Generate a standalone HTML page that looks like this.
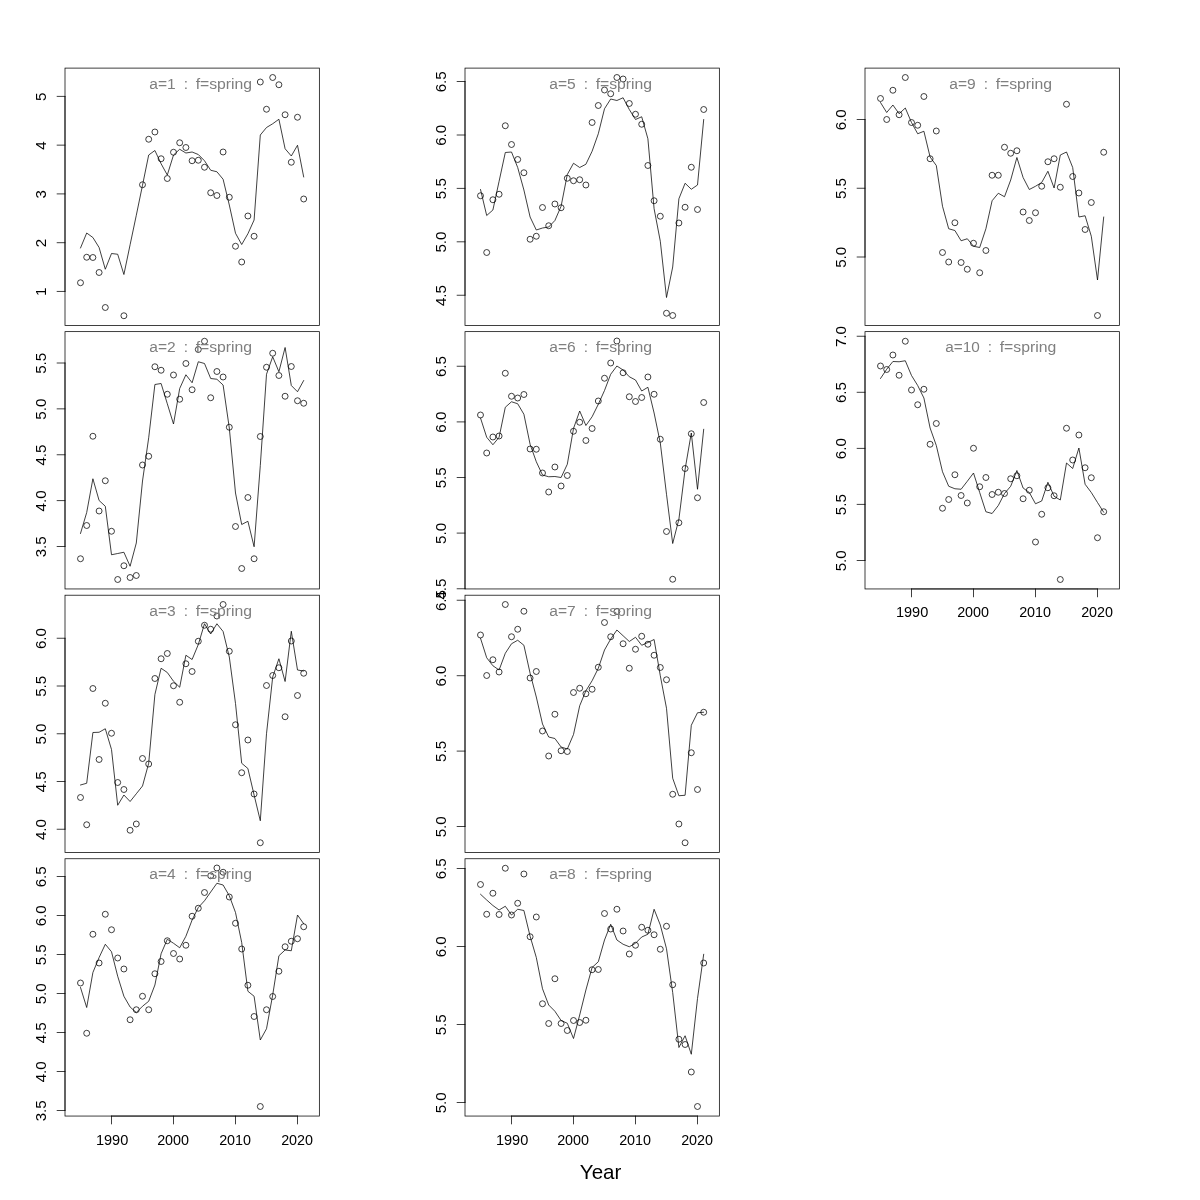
<!DOCTYPE html>
<html><head><meta charset="utf-8"><title>plot</title>
<style>
html,body{margin:0;padding:0;background:#fff;}
body{width:1200px;height:1200px;position:relative;overflow:hidden;font-family:"Liberation Sans",sans-serif;}
svg text{font-family:"Liberation Sans",sans-serif;}
.ln{fill:none;stroke:#000;stroke-width:0.75;stroke-linejoin:round;stroke-linecap:round}
.pt{fill:none;stroke:#000;stroke-width:0.75}
.bx{fill:none;stroke:#000;stroke-width:0.75}
.ax{fill:none;stroke:#000;stroke-width:0.75;stroke-linecap:round}
.tk{font-size:13.9px;fill:#000;text-anchor:middle;}
.tt{font-size:13.8px;fill:#7f7f7f;text-anchor:start;}
.yr{font-size:20.2px;fill:#000;text-anchor:middle;}
</style></head><body>
<svg width="1200" height="1200" viewBox="0 0 1200 1200" style="position:absolute;left:0;top:0;will-change:transform">
<rect width="1200" height="1200" fill="#fff"/>
<g><polyline class="ln" points="80.50,248.00 86.70,233.00 92.90,237.50 99.10,247.50 105.30,269.25 111.50,253.50 117.70,254.25 123.90,274.50 130.10,244.75 136.30,215.25 142.50,185.25 148.70,155.00 154.90,150.50 161.10,163.75 167.30,175.00 173.50,155.00 179.70,149.25 185.90,153.00 192.10,152.00 198.30,154.50 204.50,160.75 210.70,170.25 216.90,171.75 223.10,179.25 229.30,205.00 235.50,233.25 241.70,244.50 247.90,233.75 254.10,220.00 260.30,135.00 266.50,127.50 272.70,123.75 278.90,119.25 285.10,148.75 291.30,156.00 297.50,145.25 303.70,177.00"/><circle class="pt" cx="80.50" cy="282.75" r="2.97"/><circle class="pt" cx="86.70" cy="257.25" r="2.97"/><circle class="pt" cx="92.90" cy="257.50" r="2.97"/><circle class="pt" cx="99.10" cy="272.50" r="2.97"/><circle class="pt" cx="105.30" cy="307.50" r="2.97"/><circle class="pt" cx="123.90" cy="315.75" r="2.97"/><circle class="pt" cx="142.50" cy="184.75" r="2.97"/><circle class="pt" cx="148.70" cy="139.25" r="2.97"/><circle class="pt" cx="154.90" cy="132.00" r="2.97"/><circle class="pt" cx="161.10" cy="158.75" r="2.97"/><circle class="pt" cx="167.30" cy="178.50" r="2.97"/><circle class="pt" cx="173.50" cy="152.25" r="2.97"/><circle class="pt" cx="179.70" cy="142.75" r="2.97"/><circle class="pt" cx="185.90" cy="147.50" r="2.97"/><circle class="pt" cx="192.10" cy="160.75" r="2.97"/><circle class="pt" cx="198.30" cy="160.25" r="2.97"/><circle class="pt" cx="204.50" cy="167.25" r="2.97"/><circle class="pt" cx="210.70" cy="192.75" r="2.97"/><circle class="pt" cx="216.90" cy="195.50" r="2.97"/><circle class="pt" cx="223.10" cy="152.00" r="2.97"/><circle class="pt" cx="229.30" cy="197.25" r="2.97"/><circle class="pt" cx="235.50" cy="246.25" r="2.97"/><circle class="pt" cx="241.70" cy="262.00" r="2.97"/><circle class="pt" cx="247.90" cy="216.00" r="2.97"/><circle class="pt" cx="254.10" cy="236.25" r="2.97"/><circle class="pt" cx="260.30" cy="82.00" r="2.97"/><circle class="pt" cx="266.50" cy="109.25" r="2.97"/><circle class="pt" cx="272.70" cy="77.50" r="2.97"/><circle class="pt" cx="278.90" cy="84.75" r="2.97"/><circle class="pt" cx="285.10" cy="114.75" r="2.97"/><circle class="pt" cx="291.30" cy="162.25" r="2.97"/><circle class="pt" cx="297.50" cy="117.25" r="2.97"/><circle class="pt" cx="303.70" cy="199.00" r="2.97"/><rect class="bx" x="65.00" y="68.10" width="254.35" height="257.30"/><path class="ax" d="M65.00 96.40V291.45M65.00 96.40H57.10M65.00 145.15H57.10M65.00 193.90H57.10M65.00 242.70H57.10M65.00 291.45H57.10"/><text class="tk" transform="translate(46.10 96.70) rotate(-90)" textLength="8.4" lengthAdjust="spacingAndGlyphs">5</text><text class="tk" transform="translate(46.10 145.45) rotate(-90)" textLength="8.4" lengthAdjust="spacingAndGlyphs">4</text><text class="tk" transform="translate(46.10 194.20) rotate(-90)" textLength="8.4" lengthAdjust="spacingAndGlyphs">3</text><text class="tk" transform="translate(46.10 243.00) rotate(-90)" textLength="8.4" lengthAdjust="spacingAndGlyphs">2</text><text class="tk" transform="translate(46.10 291.75) rotate(-90)" textLength="8.4" lengthAdjust="spacingAndGlyphs">1</text><text class="tt" x="149.32" y="88.80" textLength="26.44" lengthAdjust="spacingAndGlyphs">a=1</text><text class="tt" x="183.82" y="88.80" textLength="4.27" lengthAdjust="spacingAndGlyphs">:</text><text class="tt" x="195.65" y="88.80" textLength="56.5" lengthAdjust="spacingAndGlyphs">f=spring</text></g>
<g><polyline class="ln" points="80.50,533.50 86.70,512.50 92.90,478.75 99.10,500.50 105.30,506.25 111.50,554.75 117.70,553.50 123.90,552.25 130.10,566.25 136.30,543.00 142.50,481.00 148.70,437.75 154.90,384.50 161.10,383.50 167.30,403.75 173.50,424.00 179.70,388.50 185.90,374.75 192.10,382.75 198.30,361.75 204.50,363.50 210.70,378.50 216.90,379.25 223.10,385.00 229.30,428.00 235.50,493.00 241.70,524.50 247.90,521.25 254.10,546.75 260.30,465.50 266.50,374.25 272.70,356.75 278.90,371.75 285.10,347.50 291.30,385.50 297.50,391.75 303.70,380.50"/><circle class="pt" cx="80.50" cy="558.75" r="2.97"/><circle class="pt" cx="86.70" cy="525.50" r="2.97"/><circle class="pt" cx="92.90" cy="436.25" r="2.97"/><circle class="pt" cx="99.10" cy="511.00" r="2.97"/><circle class="pt" cx="105.30" cy="480.75" r="2.97"/><circle class="pt" cx="111.50" cy="531.25" r="2.97"/><circle class="pt" cx="117.70" cy="579.50" r="2.97"/><circle class="pt" cx="123.90" cy="565.75" r="2.97"/><circle class="pt" cx="130.10" cy="577.50" r="2.97"/><circle class="pt" cx="136.30" cy="575.50" r="2.97"/><circle class="pt" cx="142.50" cy="465.00" r="2.97"/><circle class="pt" cx="148.70" cy="456.25" r="2.97"/><circle class="pt" cx="154.90" cy="366.75" r="2.97"/><circle class="pt" cx="161.10" cy="370.25" r="2.97"/><circle class="pt" cx="167.30" cy="394.25" r="2.97"/><circle class="pt" cx="173.50" cy="375.00" r="2.97"/><circle class="pt" cx="179.70" cy="399.25" r="2.97"/><circle class="pt" cx="185.90" cy="363.50" r="2.97"/><circle class="pt" cx="192.10" cy="389.75" r="2.97"/><circle class="pt" cx="198.30" cy="349.50" r="2.97"/><circle class="pt" cx="204.50" cy="341.25" r="2.97"/><circle class="pt" cx="210.70" cy="397.75" r="2.97"/><circle class="pt" cx="216.90" cy="371.50" r="2.97"/><circle class="pt" cx="223.10" cy="377.00" r="2.97"/><circle class="pt" cx="229.30" cy="427.25" r="2.97"/><circle class="pt" cx="235.50" cy="526.50" r="2.97"/><circle class="pt" cx="241.70" cy="568.50" r="2.97"/><circle class="pt" cx="247.90" cy="497.50" r="2.97"/><circle class="pt" cx="254.10" cy="558.75" r="2.97"/><circle class="pt" cx="260.30" cy="436.50" r="2.97"/><circle class="pt" cx="266.50" cy="367.25" r="2.97"/><circle class="pt" cx="272.70" cy="353.25" r="2.97"/><circle class="pt" cx="278.90" cy="375.50" r="2.97"/><circle class="pt" cx="285.10" cy="396.25" r="2.97"/><circle class="pt" cx="291.30" cy="366.50" r="2.97"/><circle class="pt" cx="297.50" cy="400.75" r="2.97"/><circle class="pt" cx="303.70" cy="403.25" r="2.97"/><rect class="bx" x="65.00" y="331.65" width="254.35" height="257.30"/><path class="ax" d="M65.00 363.00V546.50M65.00 363.00H57.10M65.00 408.85H57.10M65.00 454.75H57.10M65.00 500.60H57.10M65.00 546.50H57.10"/><text class="tk" transform="translate(46.10 363.30) rotate(-90)" textLength="21.0" lengthAdjust="spacingAndGlyphs">5.5</text><text class="tk" transform="translate(46.10 409.15) rotate(-90)" textLength="21.0" lengthAdjust="spacingAndGlyphs">5.0</text><text class="tk" transform="translate(46.10 455.05) rotate(-90)" textLength="21.0" lengthAdjust="spacingAndGlyphs">4.5</text><text class="tk" transform="translate(46.10 500.90) rotate(-90)" textLength="21.0" lengthAdjust="spacingAndGlyphs">4.0</text><text class="tk" transform="translate(46.10 546.80) rotate(-90)" textLength="21.0" lengthAdjust="spacingAndGlyphs">3.5</text><text class="tt" x="149.32" y="352.35" textLength="26.44" lengthAdjust="spacingAndGlyphs">a=2</text><text class="tt" x="183.82" y="352.35" textLength="4.27" lengthAdjust="spacingAndGlyphs">:</text><text class="tt" x="195.65" y="352.35" textLength="56.5" lengthAdjust="spacingAndGlyphs">f=spring</text></g>
<g><polyline class="ln" points="80.50,785.00 86.70,783.25 92.90,732.50 99.10,732.25 105.30,728.75 111.50,749.50 117.70,805.25 123.90,795.00 130.10,801.50 136.30,793.75 142.50,786.00 148.70,763.25 154.90,694.50 161.10,668.25 167.30,672.50 173.50,681.25 179.70,687.25 185.90,655.25 192.10,659.50 198.30,644.50 204.50,623.75 210.70,634.00 216.90,623.75 223.10,631.50 229.30,657.00 235.50,703.50 241.70,763.25 247.90,768.50 254.10,795.00 260.30,820.75 266.50,733.75 272.70,677.00 278.90,658.75 285.10,681.50 291.30,631.25 297.50,670.00 303.70,671.00"/><circle class="pt" cx="80.50" cy="797.50" r="2.97"/><circle class="pt" cx="86.70" cy="824.75" r="2.97"/><circle class="pt" cx="92.90" cy="688.50" r="2.97"/><circle class="pt" cx="99.10" cy="759.50" r="2.97"/><circle class="pt" cx="105.30" cy="703.25" r="2.97"/><circle class="pt" cx="111.50" cy="733.25" r="2.97"/><circle class="pt" cx="117.70" cy="782.50" r="2.97"/><circle class="pt" cx="123.90" cy="789.50" r="2.97"/><circle class="pt" cx="130.10" cy="830.25" r="2.97"/><circle class="pt" cx="136.30" cy="824.00" r="2.97"/><circle class="pt" cx="142.50" cy="758.50" r="2.97"/><circle class="pt" cx="148.70" cy="764.00" r="2.97"/><circle class="pt" cx="154.90" cy="678.50" r="2.97"/><circle class="pt" cx="161.10" cy="658.75" r="2.97"/><circle class="pt" cx="167.30" cy="653.50" r="2.97"/><circle class="pt" cx="173.50" cy="685.75" r="2.97"/><circle class="pt" cx="179.70" cy="702.25" r="2.97"/><circle class="pt" cx="185.90" cy="663.75" r="2.97"/><circle class="pt" cx="192.10" cy="671.50" r="2.97"/><circle class="pt" cx="198.30" cy="641.25" r="2.97"/><circle class="pt" cx="204.50" cy="625.25" r="2.97"/><circle class="pt" cx="210.70" cy="629.25" r="2.97"/><circle class="pt" cx="216.90" cy="616.00" r="2.97"/><circle class="pt" cx="223.10" cy="604.50" r="2.97"/><circle class="pt" cx="229.30" cy="651.25" r="2.97"/><circle class="pt" cx="235.50" cy="724.75" r="2.97"/><circle class="pt" cx="241.70" cy="772.75" r="2.97"/><circle class="pt" cx="247.90" cy="740.00" r="2.97"/><circle class="pt" cx="254.10" cy="794.00" r="2.97"/><circle class="pt" cx="260.30" cy="842.75" r="2.97"/><circle class="pt" cx="266.50" cy="685.50" r="2.97"/><circle class="pt" cx="272.70" cy="675.50" r="2.97"/><circle class="pt" cx="278.90" cy="667.75" r="2.97"/><circle class="pt" cx="285.10" cy="716.75" r="2.97"/><circle class="pt" cx="291.30" cy="641.00" r="2.97"/><circle class="pt" cx="297.50" cy="695.50" r="2.97"/><circle class="pt" cx="303.70" cy="673.25" r="2.97"/><rect class="bx" x="65.00" y="595.20" width="254.35" height="257.30"/><path class="ax" d="M65.00 638.25V829.25M65.00 638.25H57.10M65.00 686.00H57.10M65.00 733.75H57.10M65.00 781.50H57.10M65.00 829.25H57.10"/><text class="tk" transform="translate(46.10 638.55) rotate(-90)" textLength="21.0" lengthAdjust="spacingAndGlyphs">6.0</text><text class="tk" transform="translate(46.10 686.30) rotate(-90)" textLength="21.0" lengthAdjust="spacingAndGlyphs">5.5</text><text class="tk" transform="translate(46.10 734.05) rotate(-90)" textLength="21.0" lengthAdjust="spacingAndGlyphs">5.0</text><text class="tk" transform="translate(46.10 781.80) rotate(-90)" textLength="21.0" lengthAdjust="spacingAndGlyphs">4.5</text><text class="tk" transform="translate(46.10 829.55) rotate(-90)" textLength="21.0" lengthAdjust="spacingAndGlyphs">4.0</text><text class="tt" x="149.32" y="615.90" textLength="26.44" lengthAdjust="spacingAndGlyphs">a=3</text><text class="tt" x="183.82" y="615.90" textLength="4.27" lengthAdjust="spacingAndGlyphs">:</text><text class="tt" x="195.65" y="615.90" textLength="56.5" lengthAdjust="spacingAndGlyphs">f=spring</text></g>
<g><polyline class="ln" points="80.50,987.50 86.70,1007.50 92.90,972.50 99.10,957.50 105.30,944.25 111.50,951.75 117.70,976.25 123.90,996.25 130.10,1007.00 136.30,1012.50 142.50,1006.25 148.70,1001.25 154.90,985.00 161.10,953.75 167.30,939.25 173.50,943.25 179.70,947.75 185.90,936.25 192.10,920.00 198.30,907.50 204.50,900.75 210.70,892.00 216.90,883.25 223.10,885.00 229.30,895.75 235.50,912.50 241.70,942.50 247.90,991.25 254.10,996.25 260.30,1040.00 266.50,1028.75 272.70,995.00 278.90,955.75 285.10,950.00 291.30,950.75 297.50,915.00 303.70,923.75"/><circle class="pt" cx="80.50" cy="983.00" r="2.97"/><circle class="pt" cx="86.70" cy="1033.25" r="2.97"/><circle class="pt" cx="92.90" cy="934.25" r="2.97"/><circle class="pt" cx="99.10" cy="963.00" r="2.97"/><circle class="pt" cx="105.30" cy="914.25" r="2.97"/><circle class="pt" cx="111.50" cy="929.75" r="2.97"/><circle class="pt" cx="117.70" cy="958.00" r="2.97"/><circle class="pt" cx="123.90" cy="969.00" r="2.97"/><circle class="pt" cx="130.10" cy="1019.75" r="2.97"/><circle class="pt" cx="136.30" cy="1009.75" r="2.97"/><circle class="pt" cx="142.50" cy="996.25" r="2.97"/><circle class="pt" cx="148.70" cy="1009.75" r="2.97"/><circle class="pt" cx="154.90" cy="973.75" r="2.97"/><circle class="pt" cx="161.10" cy="961.50" r="2.97"/><circle class="pt" cx="167.30" cy="940.75" r="2.97"/><circle class="pt" cx="173.50" cy="953.50" r="2.97"/><circle class="pt" cx="179.70" cy="959.00" r="2.97"/><circle class="pt" cx="185.90" cy="945.25" r="2.97"/><circle class="pt" cx="192.10" cy="916.25" r="2.97"/><circle class="pt" cx="198.30" cy="908.25" r="2.97"/><circle class="pt" cx="204.50" cy="892.50" r="2.97"/><circle class="pt" cx="210.70" cy="875.75" r="2.97"/><circle class="pt" cx="216.90" cy="868.00" r="2.97"/><circle class="pt" cx="223.10" cy="872.25" r="2.97"/><circle class="pt" cx="229.30" cy="897.00" r="2.97"/><circle class="pt" cx="235.50" cy="923.25" r="2.97"/><circle class="pt" cx="241.70" cy="949.00" r="2.97"/><circle class="pt" cx="247.90" cy="985.25" r="2.97"/><circle class="pt" cx="254.10" cy="1016.50" r="2.97"/><circle class="pt" cx="260.30" cy="1106.50" r="2.97"/><circle class="pt" cx="266.50" cy="1009.75" r="2.97"/><circle class="pt" cx="272.70" cy="996.50" r="2.97"/><circle class="pt" cx="278.90" cy="971.25" r="2.97"/><circle class="pt" cx="285.10" cy="946.75" r="2.97"/><circle class="pt" cx="291.30" cy="941.25" r="2.97"/><circle class="pt" cx="297.50" cy="938.75" r="2.97"/><circle class="pt" cx="303.70" cy="926.75" r="2.97"/><rect class="bx" x="65.00" y="858.75" width="254.35" height="257.30"/><path class="ax" d="M65.00 876.50V1110.50M65.00 876.50H57.10M65.00 915.50H57.10M65.00 954.50H57.10M65.00 993.50H57.10M65.00 1032.50H57.10M65.00 1071.50H57.10M65.00 1110.50H57.10M111.50 1116.05H297.50M111.50 1116.05V1123.95M173.50 1116.05V1123.95M235.50 1116.05V1123.95M297.50 1116.05V1123.95"/><text class="tk" transform="translate(46.10 876.80) rotate(-90)" textLength="21.0" lengthAdjust="spacingAndGlyphs">6.5</text><text class="tk" transform="translate(46.10 915.80) rotate(-90)" textLength="21.0" lengthAdjust="spacingAndGlyphs">6.0</text><text class="tk" transform="translate(46.10 954.80) rotate(-90)" textLength="21.0" lengthAdjust="spacingAndGlyphs">5.5</text><text class="tk" transform="translate(46.10 993.80) rotate(-90)" textLength="21.0" lengthAdjust="spacingAndGlyphs">5.0</text><text class="tk" transform="translate(46.10 1032.80) rotate(-90)" textLength="21.0" lengthAdjust="spacingAndGlyphs">4.5</text><text class="tk" transform="translate(46.10 1071.80) rotate(-90)" textLength="21.0" lengthAdjust="spacingAndGlyphs">4.0</text><text class="tk" transform="translate(46.10 1110.80) rotate(-90)" textLength="21.0" lengthAdjust="spacingAndGlyphs">3.5</text><text class="tk" x="112.10" y="1144.55" textLength="32.4" lengthAdjust="spacingAndGlyphs">1990</text><text class="tk" x="173.10" y="1144.55" textLength="31.9" lengthAdjust="spacingAndGlyphs">2000</text><text class="tk" x="235.10" y="1144.55" textLength="31.9" lengthAdjust="spacingAndGlyphs">2010</text><text class="tk" x="297.10" y="1144.55" textLength="31.9" lengthAdjust="spacingAndGlyphs">2020</text><text class="tt" x="149.32" y="879.45" textLength="26.44" lengthAdjust="spacingAndGlyphs">a=4</text><text class="tt" x="183.82" y="879.45" textLength="4.27" lengthAdjust="spacingAndGlyphs">:</text><text class="tt" x="195.65" y="879.45" textLength="56.5" lengthAdjust="spacingAndGlyphs">f=spring</text></g>
<g><polyline class="ln" points="480.50,189.50 486.70,215.50 492.90,210.00 499.10,181.25 505.30,152.50 511.50,152.00 517.70,167.50 523.90,190.00 530.10,217.00 536.30,230.00 542.50,228.00 548.70,227.00 554.90,220.50 561.10,206.25 567.30,174.50 573.50,163.25 579.70,167.50 585.90,164.25 592.10,151.25 598.30,133.75 604.50,108.75 610.70,99.00 616.90,100.50 623.10,97.75 629.30,109.50 635.50,119.50 641.70,116.75 647.90,138.75 654.10,208.75 660.30,241.25 666.50,297.50 672.70,267.00 678.90,198.75 685.10,183.25 691.30,189.25 697.50,185.00 703.70,119.50"/><circle class="pt" cx="480.50" cy="195.75" r="2.97"/><circle class="pt" cx="486.70" cy="252.50" r="2.97"/><circle class="pt" cx="492.90" cy="199.75" r="2.97"/><circle class="pt" cx="499.10" cy="194.25" r="2.97"/><circle class="pt" cx="505.30" cy="125.75" r="2.97"/><circle class="pt" cx="511.50" cy="144.50" r="2.97"/><circle class="pt" cx="517.70" cy="159.50" r="2.97"/><circle class="pt" cx="523.90" cy="172.75" r="2.97"/><circle class="pt" cx="530.10" cy="239.25" r="2.97"/><circle class="pt" cx="536.30" cy="236.25" r="2.97"/><circle class="pt" cx="542.50" cy="207.50" r="2.97"/><circle class="pt" cx="548.70" cy="225.75" r="2.97"/><circle class="pt" cx="554.90" cy="204.00" r="2.97"/><circle class="pt" cx="561.10" cy="207.75" r="2.97"/><circle class="pt" cx="567.30" cy="178.25" r="2.97"/><circle class="pt" cx="573.50" cy="180.75" r="2.97"/><circle class="pt" cx="579.70" cy="179.75" r="2.97"/><circle class="pt" cx="585.90" cy="185.00" r="2.97"/><circle class="pt" cx="592.10" cy="122.50" r="2.97"/><circle class="pt" cx="598.30" cy="105.50" r="2.97"/><circle class="pt" cx="604.50" cy="90.00" r="2.97"/><circle class="pt" cx="610.70" cy="93.75" r="2.97"/><circle class="pt" cx="616.90" cy="77.50" r="2.97"/><circle class="pt" cx="623.10" cy="79.00" r="2.97"/><circle class="pt" cx="629.30" cy="103.50" r="2.97"/><circle class="pt" cx="635.50" cy="114.25" r="2.97"/><circle class="pt" cx="641.70" cy="124.25" r="2.97"/><circle class="pt" cx="647.90" cy="165.50" r="2.97"/><circle class="pt" cx="654.10" cy="200.75" r="2.97"/><circle class="pt" cx="660.30" cy="216.25" r="2.97"/><circle class="pt" cx="666.50" cy="313.25" r="2.97"/><circle class="pt" cx="672.70" cy="315.50" r="2.97"/><circle class="pt" cx="678.90" cy="223.00" r="2.97"/><circle class="pt" cx="685.10" cy="207.25" r="2.97"/><circle class="pt" cx="691.30" cy="167.25" r="2.97"/><circle class="pt" cx="697.50" cy="209.50" r="2.97"/><circle class="pt" cx="703.70" cy="109.50" r="2.97"/><rect class="bx" x="465.00" y="68.10" width="254.35" height="257.30"/><path class="ax" d="M465.00 81.50V295.25M465.00 81.50H457.10M465.00 135.00H457.10M465.00 188.40H457.10M465.00 241.80H457.10M465.00 295.25H457.10"/><text class="tk" transform="translate(446.10 81.80) rotate(-90)" textLength="21.0" lengthAdjust="spacingAndGlyphs">6.5</text><text class="tk" transform="translate(446.10 135.30) rotate(-90)" textLength="21.0" lengthAdjust="spacingAndGlyphs">6.0</text><text class="tk" transform="translate(446.10 188.70) rotate(-90)" textLength="21.0" lengthAdjust="spacingAndGlyphs">5.5</text><text class="tk" transform="translate(446.10 242.10) rotate(-90)" textLength="21.0" lengthAdjust="spacingAndGlyphs">5.0</text><text class="tk" transform="translate(446.10 295.55) rotate(-90)" textLength="21.0" lengthAdjust="spacingAndGlyphs">4.5</text><text class="tt" x="549.32" y="88.80" textLength="26.44" lengthAdjust="spacingAndGlyphs">a=5</text><text class="tt" x="583.82" y="88.80" textLength="4.27" lengthAdjust="spacingAndGlyphs">:</text><text class="tt" x="595.65" y="88.80" textLength="56.5" lengthAdjust="spacingAndGlyphs">f=spring</text></g>
<g><polyline class="ln" points="480.50,418.00 486.70,437.25 492.90,444.75 499.10,437.25 505.30,407.25 511.50,401.75 517.70,403.75 523.90,414.25 530.10,444.25 536.30,461.75 542.50,475.00 548.70,476.75 554.90,476.50 561.10,477.50 567.30,464.25 573.50,428.50 579.70,411.00 585.90,425.50 592.10,416.75 598.30,404.25 604.50,390.50 610.70,374.25 616.90,366.00 623.10,370.00 629.30,376.75 635.50,380.00 641.70,391.00 647.90,387.25 654.10,413.00 660.30,443.00 666.50,494.25 672.70,543.50 678.90,519.25 685.10,469.25 691.30,433.00 697.50,489.25 703.70,429.25"/><circle class="pt" cx="480.50" cy="415.00" r="2.97"/><circle class="pt" cx="486.70" cy="453.00" r="2.97"/><circle class="pt" cx="492.90" cy="437.00" r="2.97"/><circle class="pt" cx="499.10" cy="436.00" r="2.97"/><circle class="pt" cx="505.30" cy="373.25" r="2.97"/><circle class="pt" cx="511.50" cy="396.25" r="2.97"/><circle class="pt" cx="517.70" cy="398.00" r="2.97"/><circle class="pt" cx="523.90" cy="394.50" r="2.97"/><circle class="pt" cx="530.10" cy="449.00" r="2.97"/><circle class="pt" cx="536.30" cy="449.25" r="2.97"/><circle class="pt" cx="542.50" cy="473.00" r="2.97"/><circle class="pt" cx="548.70" cy="492.00" r="2.97"/><circle class="pt" cx="554.90" cy="467.00" r="2.97"/><circle class="pt" cx="561.10" cy="486.00" r="2.97"/><circle class="pt" cx="567.30" cy="475.50" r="2.97"/><circle class="pt" cx="573.50" cy="431.25" r="2.97"/><circle class="pt" cx="579.70" cy="422.25" r="2.97"/><circle class="pt" cx="585.90" cy="440.50" r="2.97"/><circle class="pt" cx="592.10" cy="428.50" r="2.97"/><circle class="pt" cx="598.30" cy="401.00" r="2.97"/><circle class="pt" cx="604.50" cy="378.25" r="2.97"/><circle class="pt" cx="610.70" cy="363.00" r="2.97"/><circle class="pt" cx="616.90" cy="341.00" r="2.97"/><circle class="pt" cx="623.10" cy="372.75" r="2.97"/><circle class="pt" cx="629.30" cy="396.75" r="2.97"/><circle class="pt" cx="635.50" cy="401.50" r="2.97"/><circle class="pt" cx="641.70" cy="397.50" r="2.97"/><circle class="pt" cx="647.90" cy="377.00" r="2.97"/><circle class="pt" cx="654.10" cy="394.25" r="2.97"/><circle class="pt" cx="660.30" cy="439.25" r="2.97"/><circle class="pt" cx="666.50" cy="531.50" r="2.97"/><circle class="pt" cx="672.70" cy="579.25" r="2.97"/><circle class="pt" cx="678.90" cy="522.75" r="2.97"/><circle class="pt" cx="685.10" cy="468.50" r="2.97"/><circle class="pt" cx="691.30" cy="433.75" r="2.97"/><circle class="pt" cx="697.50" cy="497.75" r="2.97"/><circle class="pt" cx="703.70" cy="402.50" r="2.97"/><rect class="bx" x="465.00" y="331.65" width="254.35" height="257.30"/><path class="ax" d="M465.00 366.25V588.75M465.00 366.25H457.10M465.00 421.90H457.10M465.00 477.50H457.10M465.00 533.10H457.10M465.00 588.75H457.10"/><text class="tk" transform="translate(446.10 366.55) rotate(-90)" textLength="21.0" lengthAdjust="spacingAndGlyphs">6.5</text><text class="tk" transform="translate(446.10 422.20) rotate(-90)" textLength="21.0" lengthAdjust="spacingAndGlyphs">6.0</text><text class="tk" transform="translate(446.10 477.80) rotate(-90)" textLength="21.0" lengthAdjust="spacingAndGlyphs">5.5</text><text class="tk" transform="translate(446.10 533.40) rotate(-90)" textLength="21.0" lengthAdjust="spacingAndGlyphs">5.0</text><text class="tk" transform="translate(446.10 589.05) rotate(-90)" textLength="21.0" lengthAdjust="spacingAndGlyphs">4.5</text><text class="tt" x="549.32" y="352.35" textLength="26.44" lengthAdjust="spacingAndGlyphs">a=6</text><text class="tt" x="583.82" y="352.35" textLength="4.27" lengthAdjust="spacingAndGlyphs">:</text><text class="tt" x="595.65" y="352.35" textLength="56.5" lengthAdjust="spacingAndGlyphs">f=spring</text></g>
<g><polyline class="ln" points="480.50,638.25 486.70,657.75 492.90,665.75 499.10,670.00 505.30,653.25 511.50,643.75 517.70,640.25 523.90,645.25 530.10,673.25 536.30,697.00 542.50,724.00 548.70,737.00 554.90,738.50 561.10,747.00 567.30,749.00 573.50,734.50 579.70,705.75 585.90,690.75 592.10,680.75 598.30,668.25 604.50,650.00 610.70,639.00 616.90,630.00 623.10,635.75 629.30,641.50 635.50,637.25 641.70,645.25 647.90,642.50 654.10,639.50 660.30,675.75 666.50,708.25 672.70,778.25 678.90,795.75 685.10,795.25 691.30,725.25 697.50,712.75 703.70,712.25"/><circle class="pt" cx="480.50" cy="635.00" r="2.97"/><circle class="pt" cx="486.70" cy="675.50" r="2.97"/><circle class="pt" cx="492.90" cy="659.75" r="2.97"/><circle class="pt" cx="499.10" cy="672.00" r="2.97"/><circle class="pt" cx="505.30" cy="604.50" r="2.97"/><circle class="pt" cx="511.50" cy="636.75" r="2.97"/><circle class="pt" cx="517.70" cy="629.25" r="2.97"/><circle class="pt" cx="523.90" cy="611.25" r="2.97"/><circle class="pt" cx="530.10" cy="678.00" r="2.97"/><circle class="pt" cx="536.30" cy="671.50" r="2.97"/><circle class="pt" cx="542.50" cy="731.00" r="2.97"/><circle class="pt" cx="548.70" cy="756.00" r="2.97"/><circle class="pt" cx="554.90" cy="714.25" r="2.97"/><circle class="pt" cx="561.10" cy="750.75" r="2.97"/><circle class="pt" cx="567.30" cy="751.50" r="2.97"/><circle class="pt" cx="573.50" cy="692.50" r="2.97"/><circle class="pt" cx="579.70" cy="688.25" r="2.97"/><circle class="pt" cx="585.90" cy="693.75" r="2.97"/><circle class="pt" cx="592.10" cy="689.25" r="2.97"/><circle class="pt" cx="598.30" cy="667.25" r="2.97"/><circle class="pt" cx="604.50" cy="622.50" r="2.97"/><circle class="pt" cx="610.70" cy="636.75" r="2.97"/><circle class="pt" cx="616.90" cy="611.50" r="2.97"/><circle class="pt" cx="623.10" cy="643.75" r="2.97"/><circle class="pt" cx="629.30" cy="668.25" r="2.97"/><circle class="pt" cx="635.50" cy="649.25" r="2.97"/><circle class="pt" cx="641.70" cy="636.25" r="2.97"/><circle class="pt" cx="647.90" cy="644.25" r="2.97"/><circle class="pt" cx="654.10" cy="655.25" r="2.97"/><circle class="pt" cx="660.30" cy="667.50" r="2.97"/><circle class="pt" cx="666.50" cy="679.75" r="2.97"/><circle class="pt" cx="672.70" cy="794.25" r="2.97"/><circle class="pt" cx="678.90" cy="824.00" r="2.97"/><circle class="pt" cx="685.10" cy="842.75" r="2.97"/><circle class="pt" cx="691.30" cy="752.75" r="2.97"/><circle class="pt" cx="697.50" cy="789.50" r="2.97"/><circle class="pt" cx="703.70" cy="712.25" r="2.97"/><rect class="bx" x="465.00" y="595.20" width="254.35" height="257.30"/><path class="ax" d="M465.00 600.25V826.50M465.00 600.25H457.10M465.00 675.70H457.10M465.00 751.10H457.10M465.00 826.50H457.10"/><text class="tk" transform="translate(446.10 600.55) rotate(-90)" textLength="21.0" lengthAdjust="spacingAndGlyphs">6.5</text><text class="tk" transform="translate(446.10 676.00) rotate(-90)" textLength="21.0" lengthAdjust="spacingAndGlyphs">6.0</text><text class="tk" transform="translate(446.10 751.40) rotate(-90)" textLength="21.0" lengthAdjust="spacingAndGlyphs">5.5</text><text class="tk" transform="translate(446.10 826.80) rotate(-90)" textLength="21.0" lengthAdjust="spacingAndGlyphs">5.0</text><text class="tt" x="549.32" y="615.90" textLength="26.44" lengthAdjust="spacingAndGlyphs">a=7</text><text class="tt" x="583.82" y="615.90" textLength="4.27" lengthAdjust="spacingAndGlyphs">:</text><text class="tt" x="595.65" y="615.90" textLength="56.5" lengthAdjust="spacingAndGlyphs">f=spring</text></g>
<g><polyline class="ln" points="480.50,894.25 486.70,900.00 492.90,905.50 499.10,910.00 505.30,906.25 511.50,915.00 517.70,909.25 523.90,910.50 530.10,936.25 536.30,957.50 542.50,988.75 548.70,1005.00 554.90,1011.25 561.10,1020.50 567.30,1023.25 573.50,1038.50 579.70,1015.00 585.90,990.00 592.10,967.50 598.30,961.75 604.50,940.00 610.70,924.25 616.90,940.00 623.10,944.25 629.30,946.75 635.50,943.25 641.70,937.00 647.90,934.25 654.10,909.25 660.30,925.00 666.50,948.75 672.70,992.50 678.90,1047.50 685.10,1035.75 691.30,1054.25 697.50,998.50 703.70,954.25"/><circle class="pt" cx="480.50" cy="884.50" r="2.97"/><circle class="pt" cx="486.70" cy="914.25" r="2.97"/><circle class="pt" cx="492.90" cy="893.25" r="2.97"/><circle class="pt" cx="499.10" cy="914.50" r="2.97"/><circle class="pt" cx="505.30" cy="868.25" r="2.97"/><circle class="pt" cx="511.50" cy="915.00" r="2.97"/><circle class="pt" cx="517.70" cy="903.25" r="2.97"/><circle class="pt" cx="523.90" cy="874.00" r="2.97"/><circle class="pt" cx="530.10" cy="936.75" r="2.97"/><circle class="pt" cx="536.30" cy="917.00" r="2.97"/><circle class="pt" cx="542.50" cy="1003.75" r="2.97"/><circle class="pt" cx="548.70" cy="1023.50" r="2.97"/><circle class="pt" cx="554.90" cy="978.75" r="2.97"/><circle class="pt" cx="561.10" cy="1023.50" r="2.97"/><circle class="pt" cx="567.30" cy="1030.50" r="2.97"/><circle class="pt" cx="573.50" cy="1020.50" r="2.97"/><circle class="pt" cx="579.70" cy="1022.50" r="2.97"/><circle class="pt" cx="585.90" cy="1020.25" r="2.97"/><circle class="pt" cx="592.10" cy="969.75" r="2.97"/><circle class="pt" cx="598.30" cy="969.50" r="2.97"/><circle class="pt" cx="604.50" cy="913.50" r="2.97"/><circle class="pt" cx="610.70" cy="929.00" r="2.97"/><circle class="pt" cx="616.90" cy="909.25" r="2.97"/><circle class="pt" cx="623.10" cy="931.00" r="2.97"/><circle class="pt" cx="629.30" cy="954.00" r="2.97"/><circle class="pt" cx="635.50" cy="945.25" r="2.97"/><circle class="pt" cx="641.70" cy="927.25" r="2.97"/><circle class="pt" cx="647.90" cy="930.25" r="2.97"/><circle class="pt" cx="654.10" cy="934.75" r="2.97"/><circle class="pt" cx="660.30" cy="949.25" r="2.97"/><circle class="pt" cx="666.50" cy="926.25" r="2.97"/><circle class="pt" cx="672.70" cy="984.75" r="2.97"/><circle class="pt" cx="678.90" cy="1039.25" r="2.97"/><circle class="pt" cx="685.10" cy="1044.50" r="2.97"/><circle class="pt" cx="691.30" cy="1072.00" r="2.97"/><circle class="pt" cx="697.50" cy="1106.50" r="2.97"/><circle class="pt" cx="703.70" cy="963.00" r="2.97"/><rect class="bx" x="465.00" y="858.75" width="254.35" height="257.30"/><path class="ax" d="M465.00 868.50V1102.50M465.00 868.50H457.10M465.00 946.50H457.10M465.00 1024.50H457.10M465.00 1102.50H457.10M511.50 1116.05H697.50M511.50 1116.05V1123.95M573.50 1116.05V1123.95M635.50 1116.05V1123.95M697.50 1116.05V1123.95"/><text class="tk" transform="translate(446.10 868.80) rotate(-90)" textLength="21.0" lengthAdjust="spacingAndGlyphs">6.5</text><text class="tk" transform="translate(446.10 946.80) rotate(-90)" textLength="21.0" lengthAdjust="spacingAndGlyphs">6.0</text><text class="tk" transform="translate(446.10 1024.80) rotate(-90)" textLength="21.0" lengthAdjust="spacingAndGlyphs">5.5</text><text class="tk" transform="translate(446.10 1102.80) rotate(-90)" textLength="21.0" lengthAdjust="spacingAndGlyphs">5.0</text><text class="tk" x="512.10" y="1144.55" textLength="32.4" lengthAdjust="spacingAndGlyphs">1990</text><text class="tk" x="573.10" y="1144.55" textLength="31.9" lengthAdjust="spacingAndGlyphs">2000</text><text class="tk" x="635.10" y="1144.55" textLength="31.9" lengthAdjust="spacingAndGlyphs">2010</text><text class="tk" x="697.10" y="1144.55" textLength="31.9" lengthAdjust="spacingAndGlyphs">2020</text><text class="tt" x="549.32" y="879.45" textLength="26.44" lengthAdjust="spacingAndGlyphs">a=8</text><text class="tt" x="583.82" y="879.45" textLength="4.27" lengthAdjust="spacingAndGlyphs">:</text><text class="tt" x="595.65" y="879.45" textLength="56.5" lengthAdjust="spacingAndGlyphs">f=spring</text></g>
<g><polyline class="ln" points="880.50,102.50 886.70,112.50 892.90,105.00 899.10,113.75 905.30,108.00 911.50,122.50 917.70,133.75 923.90,131.25 930.10,157.00 936.30,165.50 942.50,206.25 948.70,228.75 954.90,230.50 961.10,240.75 967.30,238.75 973.50,246.25 979.70,247.50 985.90,228.75 992.10,200.75 998.30,193.25 1004.50,196.75 1010.70,180.00 1016.90,157.50 1023.10,177.50 1029.30,189.50 1035.50,186.25 1041.70,182.50 1047.90,171.25 1054.10,188.00 1060.30,155.00 1066.50,152.00 1072.70,167.50 1078.90,217.00 1085.10,215.75 1091.30,236.25 1097.50,280.00 1103.70,217.00"/><circle class="pt" cx="880.50" cy="98.50" r="2.97"/><circle class="pt" cx="886.70" cy="119.50" r="2.97"/><circle class="pt" cx="892.90" cy="90.25" r="2.97"/><circle class="pt" cx="899.10" cy="114.75" r="2.97"/><circle class="pt" cx="905.30" cy="77.50" r="2.97"/><circle class="pt" cx="911.50" cy="122.50" r="2.97"/><circle class="pt" cx="917.70" cy="125.25" r="2.97"/><circle class="pt" cx="923.90" cy="96.50" r="2.97"/><circle class="pt" cx="930.10" cy="158.75" r="2.97"/><circle class="pt" cx="936.30" cy="131.00" r="2.97"/><circle class="pt" cx="942.50" cy="252.50" r="2.97"/><circle class="pt" cx="948.70" cy="262.00" r="2.97"/><circle class="pt" cx="954.90" cy="222.75" r="2.97"/><circle class="pt" cx="961.10" cy="262.50" r="2.97"/><circle class="pt" cx="967.30" cy="269.25" r="2.97"/><circle class="pt" cx="973.50" cy="243.25" r="2.97"/><circle class="pt" cx="979.70" cy="272.75" r="2.97"/><circle class="pt" cx="985.90" cy="250.50" r="2.97"/><circle class="pt" cx="992.10" cy="175.25" r="2.97"/><circle class="pt" cx="998.30" cy="175.25" r="2.97"/><circle class="pt" cx="1004.50" cy="147.25" r="2.97"/><circle class="pt" cx="1010.70" cy="153.25" r="2.97"/><circle class="pt" cx="1016.90" cy="150.75" r="2.97"/><circle class="pt" cx="1023.10" cy="212.00" r="2.97"/><circle class="pt" cx="1029.30" cy="220.50" r="2.97"/><circle class="pt" cx="1035.50" cy="212.75" r="2.97"/><circle class="pt" cx="1041.70" cy="186.25" r="2.97"/><circle class="pt" cx="1047.90" cy="161.75" r="2.97"/><circle class="pt" cx="1054.10" cy="158.75" r="2.97"/><circle class="pt" cx="1060.30" cy="187.25" r="2.97"/><circle class="pt" cx="1066.50" cy="104.25" r="2.97"/><circle class="pt" cx="1072.70" cy="176.50" r="2.97"/><circle class="pt" cx="1078.90" cy="193.00" r="2.97"/><circle class="pt" cx="1085.10" cy="229.50" r="2.97"/><circle class="pt" cx="1091.30" cy="202.50" r="2.97"/><circle class="pt" cx="1097.50" cy="315.50" r="2.97"/><circle class="pt" cx="1103.70" cy="152.25" r="2.97"/><rect class="bx" x="865.00" y="68.10" width="254.35" height="257.30"/><path class="ax" d="M865.00 119.50V257.00M865.00 119.50H857.10M865.00 188.25H857.10M865.00 257.00H857.10"/><text class="tk" transform="translate(846.10 119.80) rotate(-90)" textLength="21.0" lengthAdjust="spacingAndGlyphs">6.0</text><text class="tk" transform="translate(846.10 188.55) rotate(-90)" textLength="21.0" lengthAdjust="spacingAndGlyphs">5.5</text><text class="tk" transform="translate(846.10 257.30) rotate(-90)" textLength="21.0" lengthAdjust="spacingAndGlyphs">5.0</text><text class="tt" x="949.32" y="88.80" textLength="26.44" lengthAdjust="spacingAndGlyphs">a=9</text><text class="tt" x="983.82" y="88.80" textLength="4.27" lengthAdjust="spacingAndGlyphs">:</text><text class="tt" x="995.65" y="88.80" textLength="56.5" lengthAdjust="spacingAndGlyphs">f=spring</text></g>
<g><polyline class="ln" points="880.50,378.50 886.70,369.25 892.90,361.50 899.10,361.75 905.30,360.75 911.50,375.50 917.70,385.50 923.90,398.00 930.10,428.00 936.30,445.50 942.50,471.75 948.70,486.25 954.90,488.75 961.10,489.25 967.30,481.25 973.50,473.00 979.70,492.50 985.90,511.75 992.10,513.50 998.30,505.50 1004.50,493.50 1010.70,486.25 1016.90,470.50 1023.10,488.00 1029.30,492.50 1035.50,503.75 1041.70,501.00 1047.90,482.25 1054.10,496.25 1060.30,500.00 1066.50,463.00 1072.70,468.50 1078.90,448.00 1085.10,484.25 1091.30,492.50 1097.50,502.50 1103.70,512.25"/><circle class="pt" cx="880.50" cy="366.00" r="2.97"/><circle class="pt" cx="886.70" cy="369.50" r="2.97"/><circle class="pt" cx="892.90" cy="355.00" r="2.97"/><circle class="pt" cx="899.10" cy="375.25" r="2.97"/><circle class="pt" cx="905.30" cy="341.25" r="2.97"/><circle class="pt" cx="911.50" cy="390.00" r="2.97"/><circle class="pt" cx="917.70" cy="404.75" r="2.97"/><circle class="pt" cx="923.90" cy="389.25" r="2.97"/><circle class="pt" cx="930.10" cy="444.25" r="2.97"/><circle class="pt" cx="936.30" cy="423.50" r="2.97"/><circle class="pt" cx="942.50" cy="508.25" r="2.97"/><circle class="pt" cx="948.70" cy="499.50" r="2.97"/><circle class="pt" cx="954.90" cy="474.75" r="2.97"/><circle class="pt" cx="961.10" cy="495.50" r="2.97"/><circle class="pt" cx="967.30" cy="503.00" r="2.97"/><circle class="pt" cx="973.50" cy="448.25" r="2.97"/><circle class="pt" cx="979.70" cy="486.75" r="2.97"/><circle class="pt" cx="985.90" cy="477.50" r="2.97"/><circle class="pt" cx="992.10" cy="494.50" r="2.97"/><circle class="pt" cx="998.30" cy="492.25" r="2.97"/><circle class="pt" cx="1004.50" cy="493.50" r="2.97"/><circle class="pt" cx="1010.70" cy="478.75" r="2.97"/><circle class="pt" cx="1016.90" cy="475.75" r="2.97"/><circle class="pt" cx="1023.10" cy="498.75" r="2.97"/><circle class="pt" cx="1029.30" cy="490.25" r="2.97"/><circle class="pt" cx="1035.50" cy="542.00" r="2.97"/><circle class="pt" cx="1041.70" cy="514.25" r="2.97"/><circle class="pt" cx="1047.90" cy="487.75" r="2.97"/><circle class="pt" cx="1054.10" cy="495.75" r="2.97"/><circle class="pt" cx="1060.30" cy="579.50" r="2.97"/><circle class="pt" cx="1066.50" cy="428.25" r="2.97"/><circle class="pt" cx="1072.70" cy="460.00" r="2.97"/><circle class="pt" cx="1078.90" cy="435.00" r="2.97"/><circle class="pt" cx="1085.10" cy="467.75" r="2.97"/><circle class="pt" cx="1091.30" cy="477.75" r="2.97"/><circle class="pt" cx="1097.50" cy="537.75" r="2.97"/><circle class="pt" cx="1103.70" cy="511.75" r="2.97"/><rect class="bx" x="865.00" y="331.65" width="254.35" height="257.30"/><path class="ax" d="M865.00 336.25V560.50M865.00 336.25H857.10M865.00 392.30H857.10M865.00 448.40H857.10M865.00 504.40H857.10M865.00 560.50H857.10M911.50 588.95H1097.50M911.50 588.95V596.85M973.50 588.95V596.85M1035.50 588.95V596.85M1097.50 588.95V596.85"/><text class="tk" transform="translate(846.10 336.55) rotate(-90)" textLength="21.0" lengthAdjust="spacingAndGlyphs">7.0</text><text class="tk" transform="translate(846.10 392.60) rotate(-90)" textLength="21.0" lengthAdjust="spacingAndGlyphs">6.5</text><text class="tk" transform="translate(846.10 448.70) rotate(-90)" textLength="21.0" lengthAdjust="spacingAndGlyphs">6.0</text><text class="tk" transform="translate(846.10 504.70) rotate(-90)" textLength="21.0" lengthAdjust="spacingAndGlyphs">5.5</text><text class="tk" transform="translate(846.10 560.80) rotate(-90)" textLength="21.0" lengthAdjust="spacingAndGlyphs">5.0</text><text class="tk" x="912.10" y="617.45" textLength="32.4" lengthAdjust="spacingAndGlyphs">1990</text><text class="tk" x="973.10" y="617.45" textLength="31.9" lengthAdjust="spacingAndGlyphs">2000</text><text class="tk" x="1035.10" y="617.45" textLength="31.9" lengthAdjust="spacingAndGlyphs">2010</text><text class="tk" x="1097.10" y="617.45" textLength="31.9" lengthAdjust="spacingAndGlyphs">2020</text><text class="tt" x="945.29" y="352.35" textLength="34.50" lengthAdjust="spacingAndGlyphs">a=10</text><text class="tt" x="987.85" y="352.35" textLength="4.27" lengthAdjust="spacingAndGlyphs">:</text><text class="tt" x="999.68" y="352.35" textLength="56.5" lengthAdjust="spacingAndGlyphs">f=spring</text></g>
<text class="yr" x="600.6" y="1178.8" textLength="41.5" lengthAdjust="spacingAndGlyphs">Year</text>
</svg>
</body></html>
